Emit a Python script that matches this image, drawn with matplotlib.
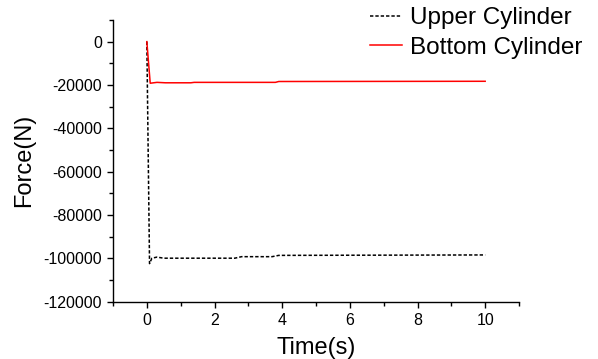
import numpy as np
import matplotlib as mpl
import matplotlib.pyplot as plt
from matplotlib.ticker import MultipleLocator

# ------------------------------------------------------------
# Data
# ------------------------------------------------------------
t_upper = [0, 0.08, 0.15, 0.3, 0.5, 2.6, 2.8, 3.7, 3.9, 10]
f_upper = [0, -102500, -100000, -99500, -100000, -100000, -99300, -99300, -98700, -98500]

t_bottom = [0, 0.1, 0.3, 0.55, 1.3, 1.4, 3.8, 3.9, 10]
f_bottom = [0, -19200, -18800, -19000, -19000, -18800, -18800, -18400, -18300]

labels = ["Upper Cylinder", "Bottom Cylinder"]

# ------------------------------------------------------------
# Style
# ------------------------------------------------------------
mpl.rcParams.update({
    "font.family": "Liberation Sans",
    "font.size": 11,
    "axes.linewidth": 1.0,
    "axes.unicode_minus": False,
})

fig = plt.figure(figsize=(5.98, 3.59), dpi=100)
ax = fig.add_axes([113 / 598, 1 - 301.5 / 359, (519 - 113) / 598, (301.5 - 20) / 359])

ax.plot(t_upper, f_upper, color="black", lw=1.1, linestyle=(0, (2.2, 1.3)),
        label=labels[0])
ax.plot(t_bottom, f_bottom, color="red", lw=1.1, label=labels[1])

ax.set_xlim(-1, 11)
ax.set_ylim(-120000, 10000)
ax.xaxis.set_major_locator(MultipleLocator(2))
ax.xaxis.set_minor_locator(MultipleLocator(1))
ax.yaxis.set_major_locator(MultipleLocator(20000))
ax.yaxis.set_minor_locator(MultipleLocator(10000))
ax.set_yticks(np.arange(-120000, 1, 20000))

ax.spines["top"].set_visible(False)
ax.spines["right"].set_visible(False)
ax.tick_params(which="major", direction="out", length=4.5, width=1.0, labelsize=11.5)
ax.tick_params(which="minor", direction="out", length=3, width=1.0)

ax.set_xlabel("Time(s)", fontsize=17, labelpad=7)
ax.set_ylabel("Force(N)", fontsize=17, labelpad=6)

ax.legend(loc="upper left", bbox_to_anchor=(370 / 598, 1 - 7 / 359),
          bbox_transform=fig.transFigure, frameon=False, fontsize=17.5,
          handlelength=1.3, handletextpad=0.35, labelspacing=0.32,
          borderpad=0, borderaxespad=0)

fig.savefig("out.png", dpi=100)
